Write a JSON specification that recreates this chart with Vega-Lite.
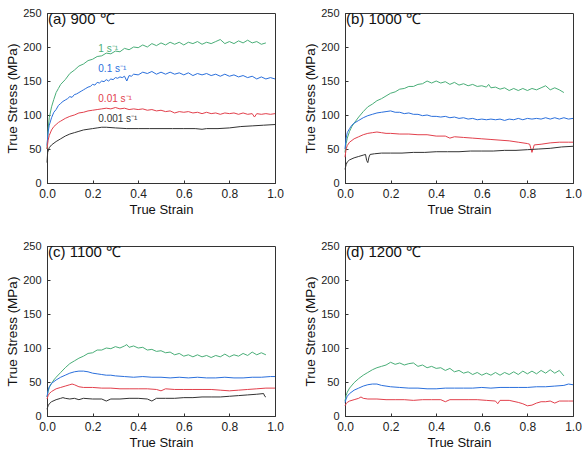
{
"$schema":"https://vega.github.io/schema/vega-lite/v6.json",
"padding":{"left":5,"top":6,"right":0,"bottom":0},
"background":"white",
"config":{
 "font":"Liberation Sans",
 "view":{"stroke":"#333","strokeWidth":1},
 "axis":{"grid":false,"domainColor":"#333","tickColor":"#333","labelColor":"#222","titleColor":"#111","titleFontWeight":"normal","labelFont":"Liberation Sans","titleFont":"Liberation Sans","labelFlush":false,"labelOverlap":false},
 "axisX":{"labelFontSize":12,"titleFontSize":13,"tickSize":-3,"labelPadding":8.5,"titlePadding":4},
 "axisY":{"labelFontSize":11,"titleFontSize":13.5,"tickSize":-3,"labelPadding":9,"titlePadding":3},
 "title":{"fontSize":15,"fontWeight":"normal","anchor":"start","frame":"group","offset":-20,"color":"#111","dx":1}
},
"datasets":{
"a":[
{"r":"g","x":0,"y":50},{"r":"g","x":0.005,"y":80},{"r":"g","x":0.01,"y":96},{"r":"g","x":0.02,"y":112},{"r":"g","x":0.03,"y":123},{"r":"g","x":0.04,"y":133},{"r":"g","x":0.05,"y":139},{"r":"g","x":0.06,"y":145},{"r":"g","x":0.08,"y":152},{"r":"g","x":0.1,"y":161},{"r":"g","x":0.12,"y":166},{"r":"g","x":0.14,"y":172},{"r":"g","x":0.16,"y":175},{"r":"g","x":0.18,"y":180},{"r":"g","x":0.2,"y":182},{"r":"g","x":0.22,"y":186},{"r":"g","x":0.24,"y":187},{"r":"g","x":0.26,"y":191},{"r":"g","x":0.28,"y":190},{"r":"g","x":0.3,"y":194},{"r":"g","x":0.32,"y":193},{"r":"g","x":0.34,"y":198},{"r":"g","x":0.36,"y":196},{"r":"g","x":0.38,"y":200},{"r":"g","x":0.4,"y":199},{"r":"g","x":0.42,"y":203},{"r":"g","x":0.44,"y":200},{"r":"g","x":0.46,"y":205},{"r":"g","x":0.48,"y":202},{"r":"g","x":0.5,"y":206},{"r":"g","x":0.52,"y":203},{"r":"g","x":0.54,"y":207},{"r":"g","x":0.56,"y":204},{"r":"g","x":0.58,"y":207},{"r":"g","x":0.6,"y":203},{"r":"g","x":0.62,"y":207},{"r":"g","x":0.64,"y":205},{"r":"g","x":0.66,"y":208},{"r":"g","x":0.68,"y":204},{"r":"g","x":0.7,"y":207},{"r":"g","x":0.72,"y":205},{"r":"g","x":0.74,"y":208},{"r":"g","x":0.76,"y":211},{"r":"g","x":0.78,"y":205},{"r":"g","x":0.8,"y":208},{"r":"g","x":0.82,"y":205},{"r":"g","x":0.84,"y":209},{"r":"g","x":0.86,"y":206},{"r":"g","x":0.88,"y":210},{"r":"g","x":0.9,"y":206},{"r":"g","x":0.92,"y":208},{"r":"g","x":0.94,"y":204},{"r":"g","x":0.96,"y":206},
{"r":"b","x":0,"y":55},{"r":"b","x":0.005,"y":75},{"r":"b","x":0.01,"y":85},{"r":"b","x":0.02,"y":96},{"r":"b","x":0.03,"y":104},{"r":"b","x":0.04,"y":108},{"r":"b","x":0.05,"y":114},{"r":"b","x":0.06,"y":117},{"r":"b","x":0.07,"y":120},{"r":"b","x":0.08,"y":122},{"r":"b","x":0.09,"y":124},{"r":"b","x":0.1,"y":127},{"r":"b","x":0.11,"y":126},{"r":"b","x":0.12,"y":130},{"r":"b","x":0.13,"y":131},{"r":"b","x":0.14,"y":133},{"r":"b","x":0.15,"y":135},{"r":"b","x":0.16,"y":137},{"r":"b","x":0.17,"y":139},{"r":"b","x":0.18,"y":141},{"r":"b","x":0.19,"y":142},{"r":"b","x":0.2,"y":145},{"r":"b","x":0.21,"y":144},{"r":"b","x":0.22,"y":148},{"r":"b","x":0.23,"y":147},{"r":"b","x":0.24,"y":150},{"r":"b","x":0.25,"y":149},{"r":"b","x":0.26,"y":152},{"r":"b","x":0.27,"y":150},{"r":"b","x":0.28,"y":153},{"r":"b","x":0.29,"y":152},{"r":"b","x":0.3,"y":155},{"r":"b","x":0.31,"y":154},{"r":"b","x":0.32,"y":156},{"r":"b","x":0.33,"y":155},{"r":"b","x":0.34,"y":157},{"r":"b","x":0.35,"y":150},{"r":"b","x":0.36,"y":158},{"r":"b","x":0.37,"y":157},{"r":"b","x":0.38,"y":160},{"r":"b","x":0.4,"y":159},{"r":"b","x":0.42,"y":163},{"r":"b","x":0.44,"y":161},{"r":"b","x":0.46,"y":164},{"r":"b","x":0.48,"y":160},{"r":"b","x":0.5,"y":163},{"r":"b","x":0.52,"y":160},{"r":"b","x":0.54,"y":163},{"r":"b","x":0.56,"y":160},{"r":"b","x":0.58,"y":162},{"r":"b","x":0.6,"y":159},{"r":"b","x":0.62,"y":162},{"r":"b","x":0.64,"y":158},{"r":"b","x":0.66,"y":161},{"r":"b","x":0.68,"y":159},{"r":"b","x":0.7,"y":161},{"r":"b","x":0.72,"y":158},{"r":"b","x":0.74,"y":160},{"r":"b","x":0.76,"y":157},{"r":"b","x":0.78,"y":160},{"r":"b","x":0.8,"y":157},{"r":"b","x":0.82,"y":159},{"r":"b","x":0.84,"y":156},{"r":"b","x":0.86,"y":158},{"r":"b","x":0.88,"y":155},{"r":"b","x":0.9,"y":157},{"r":"b","x":0.92,"y":153},{"r":"b","x":0.94,"y":156},{"r":"b","x":0.96,"y":153},{"r":"b","x":0.98,"y":155},{"r":"b","x":1,"y":153},
{"r":"r","x":0,"y":50},{"r":"r","x":0.005,"y":63},{"r":"r","x":0.01,"y":70},{"r":"r","x":0.02,"y":78},{"r":"r","x":0.03,"y":83},{"r":"r","x":0.04,"y":86},{"r":"r","x":0.05,"y":89},{"r":"r","x":0.06,"y":91},{"r":"r","x":0.08,"y":95},{"r":"r","x":0.1,"y":98},{"r":"r","x":0.12,"y":100},{"r":"r","x":0.14,"y":103},{"r":"r","x":0.16,"y":104},{"r":"r","x":0.18,"y":106},{"r":"r","x":0.2,"y":107},{"r":"r","x":0.22,"y":108},{"r":"r","x":0.24,"y":109},{"r":"r","x":0.26,"y":110},{"r":"r","x":0.28,"y":109},{"r":"r","x":0.3,"y":111},{"r":"r","x":0.32,"y":109},{"r":"r","x":0.34,"y":110},{"r":"r","x":0.36,"y":108},{"r":"r","x":0.38,"y":109},{"r":"r","x":0.4,"y":108},{"r":"r","x":0.42,"y":109},{"r":"r","x":0.44,"y":107},{"r":"r","x":0.46,"y":108},{"r":"r","x":0.48,"y":106},{"r":"r","x":0.5,"y":107},{"r":"r","x":0.52,"y":105},{"r":"r","x":0.54,"y":106},{"r":"r","x":0.56,"y":103},{"r":"r","x":0.58,"y":105},{"r":"r","x":0.6,"y":104},{"r":"r","x":0.62,"y":105},{"r":"r","x":0.64,"y":103},{"r":"r","x":0.66,"y":104},{"r":"r","x":0.68,"y":102},{"r":"r","x":0.7,"y":104},{"r":"r","x":0.72,"y":102},{"r":"r","x":0.74,"y":103},{"r":"r","x":0.76,"y":101},{"r":"r","x":0.78,"y":103},{"r":"r","x":0.8,"y":102},{"r":"r","x":0.82,"y":103},{"r":"r","x":0.84,"y":101},{"r":"r","x":0.86,"y":103},{"r":"r","x":0.88,"y":101},{"r":"r","x":0.9,"y":102},{"r":"r","x":0.91,"y":97},{"r":"r","x":0.92,"y":102},{"r":"r","x":0.94,"y":101},{"r":"r","x":0.96,"y":102},{"r":"r","x":0.98,"y":101},{"r":"r","x":1,"y":102},
{"r":"k","x":0,"y":30},{"r":"k","x":0.003,"y":45},{"r":"k","x":0.01,"y":52},{"r":"k","x":0.02,"y":56},{"r":"k","x":0.04,"y":61},{"r":"k","x":0.06,"y":65},{"r":"k","x":0.08,"y":69},{"r":"k","x":0.1,"y":72},{"r":"k","x":0.12,"y":74},{"r":"k","x":0.14,"y":76},{"r":"k","x":0.16,"y":78},{"r":"k","x":0.18,"y":79},{"r":"k","x":0.2,"y":80},{"r":"k","x":0.22,"y":81},{"r":"k","x":0.24,"y":82},{"r":"k","x":0.26,"y":82},{"r":"k","x":0.3,"y":81},{"r":"k","x":0.35,"y":80},{"r":"k","x":0.4,"y":80},{"r":"k","x":0.45,"y":80},{"r":"k","x":0.5,"y":80},{"r":"k","x":0.55,"y":80},{"r":"k","x":0.6,"y":80},{"r":"k","x":0.65,"y":80},{"r":"k","x":0.68,"y":79},{"r":"k","x":0.7,"y":80},{"r":"k","x":0.75,"y":80},{"r":"k","x":0.8,"y":81},{"r":"k","x":0.85,"y":83},{"r":"k","x":0.9,"y":84},{"r":"k","x":0.95,"y":85},{"r":"k","x":1,"y":86}
],
"la":[
{"r":"g","x":0.225,"y":197,"t":"1 s⁻¹"},{"r":"b","x":0.225,"y":168,"t":"0.1 s⁻¹"},{"r":"r","x":0.225,"y":123,"t":"0.01 s⁻¹"},{"r":"k","x":0.225,"y":94,"t":"0.001 s⁻¹"}
],
"b":[
{"r":"g","x":0,"y":45},{"r":"g","x":0.005,"y":58},{"r":"g","x":0.01,"y":66},{"r":"g","x":0.02,"y":76},{"r":"g","x":0.03,"y":83},{"r":"g","x":0.04,"y":88},{"r":"g","x":0.06,"y":97},{"r":"g","x":0.08,"y":105},{"r":"g","x":0.1,"y":112},{"r":"g","x":0.12,"y":116},{"r":"g","x":0.14,"y":121},{"r":"g","x":0.16,"y":124},{"r":"g","x":0.18,"y":128},{"r":"g","x":0.2,"y":132},{"r":"g","x":0.22,"y":134},{"r":"g","x":0.24,"y":138},{"r":"g","x":0.26,"y":139},{"r":"g","x":0.28,"y":142},{"r":"g","x":0.3,"y":142},{"r":"g","x":0.32,"y":145},{"r":"g","x":0.34,"y":146},{"r":"g","x":0.36,"y":150},{"r":"g","x":0.38,"y":147},{"r":"g","x":0.4,"y":150},{"r":"g","x":0.42,"y":147},{"r":"g","x":0.44,"y":149},{"r":"g","x":0.46,"y":145},{"r":"g","x":0.48,"y":148},{"r":"g","x":0.5,"y":144},{"r":"g","x":0.52,"y":146},{"r":"g","x":0.54,"y":143},{"r":"g","x":0.56,"y":145},{"r":"g","x":0.58,"y":142},{"r":"g","x":0.6,"y":143},{"r":"g","x":0.62,"y":141},{"r":"g","x":0.63,"y":145},{"r":"g","x":0.64,"y":140},{"r":"g","x":0.66,"y":141},{"r":"g","x":0.68,"y":138},{"r":"g","x":0.7,"y":140},{"r":"g","x":0.72,"y":136},{"r":"g","x":0.74,"y":139},{"r":"g","x":0.76,"y":136},{"r":"g","x":0.78,"y":139},{"r":"g","x":0.8,"y":136},{"r":"g","x":0.82,"y":139},{"r":"g","x":0.84,"y":137},{"r":"g","x":0.86,"y":140},{"r":"g","x":0.88,"y":143},{"r":"g","x":0.9,"y":137},{"r":"g","x":0.92,"y":140},{"r":"g","x":0.94,"y":137},{"r":"g","x":0.96,"y":133},
{"r":"b","x":0,"y":50},{"r":"b","x":0.005,"y":66},{"r":"b","x":0.01,"y":74},{"r":"b","x":0.02,"y":80},{"r":"b","x":0.03,"y":85},{"r":"b","x":0.04,"y":88},{"r":"b","x":0.06,"y":92},{"r":"b","x":0.08,"y":96},{"r":"b","x":0.1,"y":99},{"r":"b","x":0.12,"y":101},{"r":"b","x":0.14,"y":103},{"r":"b","x":0.16,"y":104},{"r":"b","x":0.18,"y":105},{"r":"b","x":0.2,"y":106},{"r":"b","x":0.22,"y":104},{"r":"b","x":0.24,"y":104},{"r":"b","x":0.26,"y":102},{"r":"b","x":0.28,"y":103},{"r":"b","x":0.3,"y":101},{"r":"b","x":0.32,"y":101},{"r":"b","x":0.34,"y":99},{"r":"b","x":0.36,"y":100},{"r":"b","x":0.38,"y":98},{"r":"b","x":0.4,"y":98},{"r":"b","x":0.42,"y":97},{"r":"b","x":0.44,"y":98},{"r":"b","x":0.46,"y":96},{"r":"b","x":0.48,"y":97},{"r":"b","x":0.5,"y":95},{"r":"b","x":0.52,"y":96},{"r":"b","x":0.54,"y":94},{"r":"b","x":0.56,"y":95},{"r":"b","x":0.58,"y":93},{"r":"b","x":0.6,"y":94},{"r":"b","x":0.62,"y":93},{"r":"b","x":0.64,"y":94},{"r":"b","x":0.66,"y":93},{"r":"b","x":0.68,"y":94},{"r":"b","x":0.7,"y":92},{"r":"b","x":0.72,"y":94},{"r":"b","x":0.74,"y":93},{"r":"b","x":0.76,"y":95},{"r":"b","x":0.78,"y":93},{"r":"b","x":0.8,"y":95},{"r":"b","x":0.82,"y":94},{"r":"b","x":0.84,"y":95},{"r":"b","x":0.86,"y":94},{"r":"b","x":0.88,"y":96},{"r":"b","x":0.9,"y":94},{"r":"b","x":0.92,"y":96},{"r":"b","x":0.94,"y":94},{"r":"b","x":0.96,"y":96},{"r":"b","x":0.98,"y":94},{"r":"b","x":1,"y":95},
{"r":"r","x":0,"y":38},{"r":"r","x":0.005,"y":50},{"r":"r","x":0.01,"y":55},{"r":"r","x":0.02,"y":60},{"r":"r","x":0.04,"y":65},{"r":"r","x":0.06,"y":68},{"r":"r","x":0.08,"y":71},{"r":"r","x":0.1,"y":73},{"r":"r","x":0.12,"y":74},{"r":"r","x":0.14,"y":75},{"r":"r","x":0.16,"y":74},{"r":"r","x":0.18,"y":73},{"r":"r","x":0.2,"y":73},{"r":"r","x":0.24,"y":72},{"r":"r","x":0.28,"y":72},{"r":"r","x":0.32,"y":71},{"r":"r","x":0.36,"y":71},{"r":"r","x":0.4,"y":69},{"r":"r","x":0.44,"y":69},{"r":"r","x":0.46,"y":66},{"r":"r","x":0.48,"y":68},{"r":"r","x":0.52,"y":67},{"r":"r","x":0.56,"y":66},{"r":"r","x":0.6,"y":65},{"r":"r","x":0.64,"y":64},{"r":"r","x":0.68,"y":63},{"r":"r","x":0.72,"y":62},{"r":"r","x":0.76,"y":60},{"r":"r","x":0.8,"y":58},{"r":"r","x":0.81,"y":57},{"r":"r","x":0.82,"y":45},{"r":"r","x":0.83,"y":56},{"r":"r","x":0.86,"y":57},{"r":"r","x":0.9,"y":59},{"r":"r","x":0.94,"y":60},{"r":"r","x":0.98,"y":60},{"r":"r","x":1,"y":60},
{"r":"k","x":0,"y":20},{"r":"k","x":0.005,"y":27},{"r":"k","x":0.01,"y":31},{"r":"k","x":0.02,"y":34},{"r":"k","x":0.04,"y":37},{"r":"k","x":0.06,"y":39},{"r":"k","x":0.08,"y":41},{"r":"k","x":0.09,"y":42},{"r":"k","x":0.095,"y":33},{"r":"k","x":0.1,"y":30},{"r":"k","x":0.105,"y":38},{"r":"k","x":0.11,"y":42},{"r":"k","x":0.13,"y":43},{"r":"k","x":0.16,"y":44},{"r":"k","x":0.2,"y":44},{"r":"k","x":0.25,"y":44},{"r":"k","x":0.3,"y":45},{"r":"k","x":0.35,"y":45},{"r":"k","x":0.4,"y":46},{"r":"k","x":0.45,"y":46},{"r":"k","x":0.5,"y":46},{"r":"k","x":0.55,"y":47},{"r":"k","x":0.6,"y":47},{"r":"k","x":0.65,"y":47},{"r":"k","x":0.7,"y":48},{"r":"k","x":0.75,"y":48},{"r":"k","x":0.8,"y":49},{"r":"k","x":0.85,"y":50},{"r":"k","x":0.9,"y":51},{"r":"k","x":0.95,"y":53},{"r":"k","x":1,"y":54}
],
"c":[
{"r":"g","x":0,"y":28},{"r":"g","x":0.005,"y":36},{"r":"g","x":0.01,"y":42},{"r":"g","x":0.02,"y":48},{"r":"g","x":0.03,"y":53},{"r":"g","x":0.04,"y":57},{"r":"g","x":0.06,"y":64},{"r":"g","x":0.08,"y":71},{"r":"g","x":0.1,"y":77},{"r":"g","x":0.12,"y":81},{"r":"g","x":0.14,"y":85},{"r":"g","x":0.16,"y":88},{"r":"g","x":0.18,"y":92},{"r":"g","x":0.2,"y":93},{"r":"g","x":0.22,"y":97},{"r":"g","x":0.24,"y":97},{"r":"g","x":0.26,"y":100},{"r":"g","x":0.28,"y":99},{"r":"g","x":0.3,"y":102},{"r":"g","x":0.32,"y":100},{"r":"g","x":0.34,"y":103},{"r":"g","x":0.35,"y":105},{"r":"g","x":0.36,"y":101},{"r":"g","x":0.38,"y":103},{"r":"g","x":0.4,"y":100},{"r":"g","x":0.42,"y":101},{"r":"g","x":0.44,"y":97},{"r":"g","x":0.46,"y":98},{"r":"g","x":0.48,"y":95},{"r":"g","x":0.5,"y":96},{"r":"g","x":0.52,"y":93},{"r":"g","x":0.54,"y":94},{"r":"g","x":0.56,"y":90},{"r":"g","x":0.58,"y":92},{"r":"g","x":0.6,"y":88},{"r":"g","x":0.62,"y":90},{"r":"g","x":0.64,"y":87},{"r":"g","x":0.66,"y":90},{"r":"g","x":0.68,"y":87},{"r":"g","x":0.7,"y":89},{"r":"g","x":0.72,"y":86},{"r":"g","x":0.74,"y":89},{"r":"g","x":0.76,"y":87},{"r":"g","x":0.78,"y":91},{"r":"g","x":0.8,"y":87},{"r":"g","x":0.82,"y":90},{"r":"g","x":0.84,"y":88},{"r":"g","x":0.86,"y":92},{"r":"g","x":0.88,"y":89},{"r":"g","x":0.9,"y":94},{"r":"g","x":0.92,"y":90},{"r":"g","x":0.94,"y":93},{"r":"g","x":0.96,"y":90},
{"r":"b","x":0,"y":28},{"r":"b","x":0.005,"y":38},{"r":"b","x":0.01,"y":43},{"r":"b","x":0.02,"y":48},{"r":"b","x":0.04,"y":53},{"r":"b","x":0.06,"y":57},{"r":"b","x":0.08,"y":60},{"r":"b","x":0.1,"y":63},{"r":"b","x":0.12,"y":65},{"r":"b","x":0.14,"y":66},{"r":"b","x":0.16,"y":66},{"r":"b","x":0.18,"y":65},{"r":"b","x":0.2,"y":63},{"r":"b","x":0.22,"y":62},{"r":"b","x":0.24,"y":61},{"r":"b","x":0.26,"y":60},{"r":"b","x":0.28,"y":60},{"r":"b","x":0.3,"y":59},{"r":"b","x":0.34,"y":58},{"r":"b","x":0.38,"y":57},{"r":"b","x":0.42,"y":58},{"r":"b","x":0.46,"y":57},{"r":"b","x":0.5,"y":57},{"r":"b","x":0.54,"y":56},{"r":"b","x":0.58,"y":57},{"r":"b","x":0.62,"y":56},{"r":"b","x":0.66,"y":57},{"r":"b","x":0.7,"y":56},{"r":"b","x":0.74,"y":56},{"r":"b","x":0.78,"y":57},{"r":"b","x":0.82,"y":56},{"r":"b","x":0.86,"y":56},{"r":"b","x":0.9,"y":57},{"r":"b","x":0.94,"y":57},{"r":"b","x":0.98,"y":58},{"r":"b","x":1,"y":58},
{"r":"r","x":0,"y":25},{"r":"r","x":0.005,"y":30},{"r":"r","x":0.01,"y":33},{"r":"r","x":0.02,"y":36},{"r":"r","x":0.04,"y":40},{"r":"r","x":0.06,"y":42},{"r":"r","x":0.08,"y":44},{"r":"r","x":0.1,"y":46},{"r":"r","x":0.11,"y":47},{"r":"r","x":0.12,"y":46},{"r":"r","x":0.14,"y":43},{"r":"r","x":0.16,"y":42},{"r":"r","x":0.2,"y":42},{"r":"r","x":0.24,"y":41},{"r":"r","x":0.28,"y":41},{"r":"r","x":0.32,"y":40},{"r":"r","x":0.36,"y":40},{"r":"r","x":0.4,"y":40},{"r":"r","x":0.44,"y":40},{"r":"r","x":0.48,"y":39},{"r":"r","x":0.5,"y":37},{"r":"r","x":0.52,"y":40},{"r":"r","x":0.56,"y":39},{"r":"r","x":0.6,"y":39},{"r":"r","x":0.64,"y":39},{"r":"r","x":0.68,"y":39},{"r":"r","x":0.72,"y":39},{"r":"r","x":0.76,"y":38},{"r":"r","x":0.8,"y":37},{"r":"r","x":0.84,"y":38},{"r":"r","x":0.88,"y":39},{"r":"r","x":0.92,"y":40},{"r":"r","x":0.96,"y":41},{"r":"r","x":1,"y":41},
{"r":"k","x":0,"y":10},{"r":"k","x":0.005,"y":15},{"r":"k","x":0.01,"y":18},{"r":"k","x":0.02,"y":21},{"r":"k","x":0.04,"y":24},{"r":"k","x":0.06,"y":26},{"r":"k","x":0.07,"y":27},{"r":"k","x":0.08,"y":26},{"r":"k","x":0.1,"y":25},{"r":"k","x":0.12,"y":26},{"r":"k","x":0.14,"y":24},{"r":"k","x":0.16,"y":26},{"r":"k","x":0.2,"y":25},{"r":"k","x":0.24,"y":25},{"r":"k","x":0.26,"y":22},{"r":"k","x":0.28,"y":25},{"r":"k","x":0.32,"y":25},{"r":"k","x":0.36,"y":26},{"r":"k","x":0.4,"y":26},{"r":"k","x":0.44,"y":25},{"r":"k","x":0.46,"y":22},{"r":"k","x":0.48,"y":26},{"r":"k","x":0.52,"y":26},{"r":"k","x":0.56,"y":26},{"r":"k","x":0.6,"y":27},{"r":"k","x":0.64,"y":27},{"r":"k","x":0.68,"y":28},{"r":"k","x":0.72,"y":28},{"r":"k","x":0.76,"y":28},{"r":"k","x":0.8,"y":29},{"r":"k","x":0.84,"y":30},{"r":"k","x":0.88,"y":31},{"r":"k","x":0.92,"y":32},{"r":"k","x":0.95,"y":33},{"r":"k","x":0.955,"y":29},{"r":"k","x":0.96,"y":28}
],
"d":[
{"r":"g","x":0,"y":22},{"r":"g","x":0.005,"y":30},{"r":"g","x":0.01,"y":35},{"r":"g","x":0.02,"y":41},{"r":"g","x":0.04,"y":49},{"r":"g","x":0.06,"y":55},{"r":"g","x":0.08,"y":60},{"r":"g","x":0.1,"y":64},{"r":"g","x":0.12,"y":68},{"r":"g","x":0.14,"y":71},{"r":"g","x":0.16,"y":73},{"r":"g","x":0.18,"y":75},{"r":"g","x":0.2,"y":79},{"r":"g","x":0.22,"y":76},{"r":"g","x":0.24,"y":78},{"r":"g","x":0.26,"y":75},{"r":"g","x":0.28,"y":77},{"r":"g","x":0.3,"y":78},{"r":"g","x":0.32,"y":73},{"r":"g","x":0.34,"y":75},{"r":"g","x":0.36,"y":71},{"r":"g","x":0.38,"y":73},{"r":"g","x":0.4,"y":70},{"r":"g","x":0.42,"y":71},{"r":"g","x":0.44,"y":67},{"r":"g","x":0.46,"y":70},{"r":"g","x":0.48,"y":65},{"r":"g","x":0.5,"y":67},{"r":"g","x":0.52,"y":63},{"r":"g","x":0.54,"y":65},{"r":"g","x":0.56,"y":61},{"r":"g","x":0.58,"y":64},{"r":"g","x":0.6,"y":60},{"r":"g","x":0.62,"y":63},{"r":"g","x":0.64,"y":60},{"r":"g","x":0.66,"y":64},{"r":"g","x":0.68,"y":60},{"r":"g","x":0.7,"y":64},{"r":"g","x":0.72,"y":61},{"r":"g","x":0.74,"y":65},{"r":"g","x":0.76,"y":61},{"r":"g","x":0.78,"y":66},{"r":"g","x":0.8,"y":62},{"r":"g","x":0.82,"y":66},{"r":"g","x":0.84,"y":62},{"r":"g","x":0.86,"y":67},{"r":"g","x":0.88,"y":63},{"r":"g","x":0.9,"y":68},{"r":"g","x":0.92,"y":63},{"r":"g","x":0.94,"y":67},{"r":"g","x":0.96,"y":59},
{"r":"b","x":0,"y":20},{"r":"b","x":0.005,"y":25},{"r":"b","x":0.01,"y":29},{"r":"b","x":0.02,"y":33},{"r":"b","x":0.04,"y":38},{"r":"b","x":0.06,"y":41},{"r":"b","x":0.08,"y":44},{"r":"b","x":0.1,"y":46},{"r":"b","x":0.12,"y":47},{"r":"b","x":0.14,"y":47},{"r":"b","x":0.16,"y":45},{"r":"b","x":0.18,"y":44},{"r":"b","x":0.2,"y":43},{"r":"b","x":0.24,"y":42},{"r":"b","x":0.28,"y":41},{"r":"b","x":0.32,"y":41},{"r":"b","x":0.36,"y":40},{"r":"b","x":0.4,"y":40},{"r":"b","x":0.44,"y":41},{"r":"b","x":0.48,"y":41},{"r":"b","x":0.52,"y":41},{"r":"b","x":0.56,"y":41},{"r":"b","x":0.6,"y":42},{"r":"b","x":0.64,"y":41},{"r":"b","x":0.68,"y":42},{"r":"b","x":0.72,"y":42},{"r":"b","x":0.76,"y":42},{"r":"b","x":0.8,"y":42},{"r":"b","x":0.84,"y":43},{"r":"b","x":0.88,"y":43},{"r":"b","x":0.92,"y":44},{"r":"b","x":0.96,"y":45},{"r":"b","x":0.98,"y":47},{"r":"b","x":1,"y":46},
{"r":"r","x":0,"y":15},{"r":"r","x":0.005,"y":18},{"r":"r","x":0.01,"y":20},{"r":"r","x":0.02,"y":22},{"r":"r","x":0.04,"y":24},{"r":"r","x":0.06,"y":26},{"r":"r","x":0.07,"y":28},{"r":"r","x":0.08,"y":26},{"r":"r","x":0.1,"y":25},{"r":"r","x":0.14,"y":25},{"r":"r","x":0.18,"y":24},{"r":"r","x":0.22,"y":24},{"r":"r","x":0.26,"y":24},{"r":"r","x":0.3,"y":23},{"r":"r","x":0.34,"y":24},{"r":"r","x":0.38,"y":24},{"r":"r","x":0.42,"y":24},{"r":"r","x":0.44,"y":21},{"r":"r","x":0.46,"y":24},{"r":"r","x":0.5,"y":24},{"r":"r","x":0.54,"y":24},{"r":"r","x":0.58,"y":24},{"r":"r","x":0.62,"y":23},{"r":"r","x":0.66,"y":22},{"r":"r","x":0.67,"y":18},{"r":"r","x":0.68,"y":23},{"r":"r","x":0.72,"y":23},{"r":"r","x":0.76,"y":20},{"r":"r","x":0.78,"y":18},{"r":"r","x":0.8,"y":15},{"r":"r","x":0.82,"y":16},{"r":"r","x":0.84,"y":19},{"r":"r","x":0.86,"y":21},{"r":"r","x":0.88,"y":21},{"r":"r","x":0.9,"y":22},{"r":"r","x":0.92,"y":19},{"r":"r","x":0.94,"y":22},{"r":"r","x":0.98,"y":22},{"r":"r","x":1,"y":22}
]
},
"spacing":22,
"vconcat":[
{"spacing":19,"hconcat":[
 {"width":228,"height":170,"title":"(a) 900 ℃",
  "encoding":{"x":{"field":"x","type":"quantitative","scale":{"domain":[0,1],"nice":false},"axis":{"values":[0,0.2,0.4,0.6,0.8,1],"format":".1f","title":"True Strain"}},
    "y":{"field":"y","type":"quantitative","scale":{"domain":[0,250]},"axis":{"values":[0,50,100,150,200,250],"title":"True Stress (MPa)"}},
    "color":{"field":"r","type":"nominal","scale":{"domain":["g","b","r","k"],"range":["#4aae78","#2a6fdc","#e2404c","#333333"]},"legend":null}},
  "layer":[
  {"data":{"name":"a"},"mark":{"type":"line","strokeWidth":1}},
  {"data":{"name":"la"},"mark":{"type":"text","align":"left","baseline":"middle","fontSize":10},"encoding":{"text":{"field":"t"}}}
 ]},
 {"width":228,"height":170,"title":"(b) 1000 ℃",
  "encoding":{"x":{"field":"x","type":"quantitative","scale":{"domain":[0,1],"nice":false},"axis":{"values":[0,0.2,0.4,0.6,0.8,1],"format":".1f","title":"True Strain"}},
    "y":{"field":"y","type":"quantitative","scale":{"domain":[0,250]},"axis":{"values":[0,50,100,150,200,250],"title":"True Stress (MPa)"}},
    "color":{"field":"r","type":"nominal","scale":{"domain":["g","b","r","k"],"range":["#4aae78","#2a6fdc","#e2404c","#333333"]},"legend":null}},
  "layer":[
  {"data":{"name":"b"},"mark":{"type":"line","strokeWidth":1}}
 ]}
]},
{"spacing":19,"hconcat":[
 {"width":228,"height":170,"title":"(c) 1100 ℃",
  "encoding":{"x":{"field":"x","type":"quantitative","scale":{"domain":[0,1],"nice":false},"axis":{"values":[0,0.2,0.4,0.6,0.8,1],"format":".1f","title":"True Strain"}},
    "y":{"field":"y","type":"quantitative","scale":{"domain":[0,250]},"axis":{"values":[0,50,100,150,200,250],"title":"True Stress (MPa)"}},
    "color":{"field":"r","type":"nominal","scale":{"domain":["g","b","r","k"],"range":["#4aae78","#2a6fdc","#e2404c","#333333"]},"legend":null}},
  "layer":[
  {"data":{"name":"c"},"mark":{"type":"line","strokeWidth":1}}
 ]},
 {"width":228,"height":170,"title":"(d) 1200 ℃",
  "encoding":{"x":{"field":"x","type":"quantitative","scale":{"domain":[0,1],"nice":false},"axis":{"values":[0,0.2,0.4,0.6,0.8,1],"format":".1f","title":"True Strain"}},
    "y":{"field":"y","type":"quantitative","scale":{"domain":[0,250]},"axis":{"values":[0,50,100,150,200,250],"title":"True Stress (MPa)"}},
    "color":{"field":"r","type":"nominal","scale":{"domain":["g","b","r","k"],"range":["#4aae78","#2a6fdc","#e2404c","#333333"]},"legend":null}},
  "layer":[
  {"data":{"name":"d"},"mark":{"type":"line","strokeWidth":1}}
 ]}
]}
]
}
